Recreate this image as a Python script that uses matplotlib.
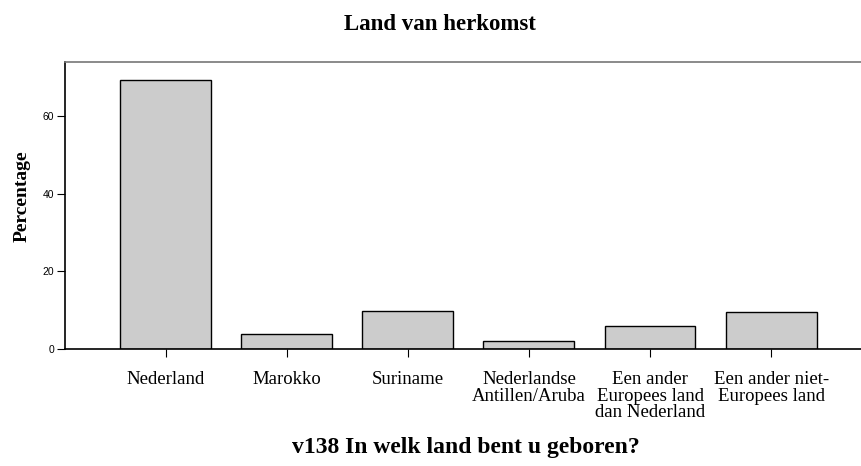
import matplotlib
matplotlib.use('Agg')
import matplotlib.pyplot as plt

# data
categories = ['Nederland', 'Marokko', 'Suriname', 'Nederlandse\nAntillen/Aruba',
              'Een ander\nEuropees land\ndan Nederland', 'Een ander niet-\nEuropees land']
percentages = [69.2, 3.9, 9.7, 2.0, 5.8, 9.6]
y_ticks = [0, 20, 40, 60]

serif = 'Liberation Serif'

fig = plt.figure(figsize=(8.62, 4.66), dpi=100)
ax = fig.add_axes([65 / 862, 1 - 349 / 466, 1 - 65 / 862, (349 - 62) / 466])

x = range(len(categories))
ax.bar(x, percentages, width=0.75, color='#cccccc', edgecolor='black', linewidth=1.0, zorder=2)

ax.set_xlim(-0.83, 5.75)
ax.set_ylim(0, 73.9)

ax.set_yticks(y_ticks)
ax.set_yticklabels([str(t) for t in y_ticks], fontsize=7.5, family='Liberation Sans')
ax.set_xticks(list(x))
ax.set_xticklabels(categories, fontsize=13.5, family=serif, linespacing=0.97)
ax.tick_params(axis='y', length=6, width=0.8, pad=2)
ax.tick_params(axis='x', length=6, width=0.8, pad=10)

ax.spines['right'].set_visible(False)
ax.spines['top'].set_color('#777777')
ax.spines['top'].set_linewidth(1.2)
ax.spines['left'].set_linewidth(1.2)
ax.spines['bottom'].set_linewidth(1.2)

fig.text(22 / 862, 1 - 196 / 466, 'Percentage', rotation=90, ha='center', va='center',
         fontsize=14, fontweight='bold', family=serif)
fig.text(440 / 862, 1 - 25 / 466, 'Land van herkomst', ha='center', va='center',
         fontsize=16.5, fontweight='bold', family=serif)
fig.text(466 / 862, 1 - 447 / 466, 'v138 In welk land bent u geboren?', ha='center', va='center',
         fontsize=17, fontweight='bold', family=serif)

fig.savefig('out.png', dpi=100)
